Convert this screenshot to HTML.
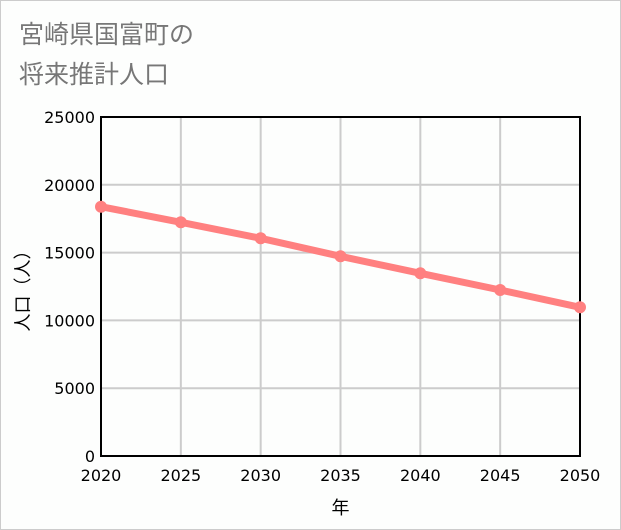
<!DOCTYPE html>
<html><head><meta charset="utf-8"><style>
body{margin:0;background:#fff;}
#wrap{position:relative;width:619px;height:528px;border:1px solid #ccc;background:#fdfefd;font-family:"Liberation Sans","Noto Sans CJK JP",sans-serif;}
#title{position:absolute;left:18px;top:14px;font-size:25px;line-height:40px;color:#777;}
</style></head><body>
<div id="wrap">
<div id="title">宮崎県国富町の<br>将来推計人口</div>
<svg id="svg" width="619" height="528" style="position:absolute;left:0;top:0"></svg>
</div>
<script>
const years=[2020,2025,2030,2035,2040,2045,2050];
const population=[18385,17235,16055,14727,13473,12242,10966];
const yTicks=[0,5000,10000,15000,20000,25000];
const L=100,R=579,T=116,B=455;
const xs=v=>L+(v-2020)/30*(R-L);
const ys=v=>B-v/25000*(B-T);
const svg=document.getElementById('svg');
const NS='http://www.w3.org/2000/svg';
const TF='"DejaVu Sans",sans-serif';
function mk(t,a,p){const e=document.createElementNS(NS,t);for(const k in a)e.setAttribute(k,a[k]);(p||svg).appendChild(e);return e;}
yTicks.forEach(v=>{
 const l=mk('line',{x1:L,x2:R,y1:ys(v),y2:ys(v),stroke:'#ccc','stroke-width':2});
 
 
 const t=mk('text',{x:L-6,y:ys(v)+6,'text-anchor':'end','font-size':16,'font-family':TF,fill:'#000'});
 t.textContent=v;
 
 
});
years.forEach(v=>{
 const l=mk('line',{x1:xs(v),x2:xs(v),y1:T,y2:B,stroke:'#ccc','stroke-width':2});
 
 
 const t=mk('text',{x:xs(v),y:B+25,'text-anchor':'middle','font-size':16,'font-family':TF,fill:'#000'});
 t.textContent=v;
 
 
});
const f=mk('rect',{x:L,y:T,width:R-L,height:B-T,fill:'none',stroke:'#000','stroke-width':2});


const pl=mk('polyline',{points:years.map((y,i)=>xs(y)+','+ys(population[i])).join(' '),fill:'none',stroke:'#ff8080','stroke-width':7});


years.forEach((y,i)=>{
 const c=mk('circle',{cx:xs(y),cy:ys(population[i]),r:6,fill:'#ff8080'});
 
 
});
const xt=mk('text',{x:(L+R)/2,y:513,'text-anchor':'middle','font-size':18,fill:'#000'});
xt.textContent='年';


const yt=mk('text',{x:0,y:0,'text-anchor':'middle','font-size':18,fill:'#000',transform:'translate(28,'+((T+B)/2)+') rotate(-90)'});
yt.textContent='人口（人）';


</script>
</body></html>
